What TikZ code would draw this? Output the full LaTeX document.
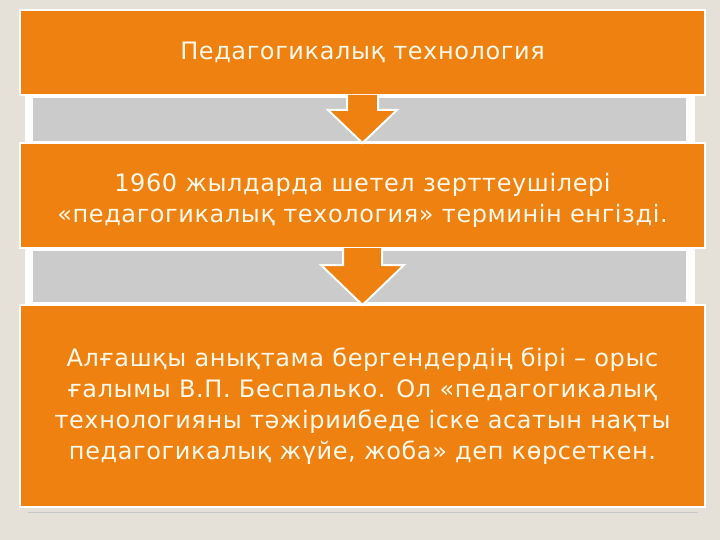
\documentclass[tikz,border=0pt]{standalone}
\usepackage{fontspec}
\setmainfont{DejaVu Sans}[LetterSpace=2.5]
\usetikzlibrary{calc}

\definecolor{bgbeige}{HTML}{E5E1D9}
\definecolor{boxorange}{HTML}{EE8110}
\definecolor{panelgrey}{HTML}{CBCBCB}
\definecolor{textcream}{HTML}{FFF9EC}

\begin{document}
\begin{tikzpicture}[x=1pt,y=-1pt,
	stepbox/.style={draw=white,line width=1.5pt,fill=boxorange,text=textcream,
		minimum width=685pt,inner sep=0pt,outer sep=0pt,anchor=north west,
		align=center,font=\fontsize{24}{31}\selectfont},
	flowarrow/.style={draw=white,line width=2pt,fill=boxorange,line join=miter}]
	
	% Background and frame
	\fill[bgbeige] (0,0) rectangle (720,540);
	\useasboundingbox (0,0) rectangle (720,540);
	
	% Grey panels behind the arrows
	\fill[white] (25,96) rectangle (695,143);
	\fill[panelgrey] (33,98) rectangle (686,141);
	\fill[white] (25,249) rectangle (695,304);
	\fill[panelgrey] (33,251) rectangle (686,302);
	
	% Shadow under the last box
	\draw[black!22,line width=1pt] (28,512) -- (698,512);
	
	% The three boxes
	\node[stepbox,minimum height=85pt] (title) at (20,10)
		{Педагогикалық технология};
	\node[stepbox,minimum height=105pt] (origin) at (20,143)
		{\rule{0pt}{28pt}1960 жылдарда шетел зерттеушілері\\
		 «педагогикалық техология» терминін енгізді.};
	\node[stepbox,minimum height=202pt] (definition) at (20,305)
		{Алғашқы анықтама бергендердің бірі – орыс\\
		 ғалымы В.П. Беспалько. Ол «педагогикалық\\
		 технологияны тәжіриибеде іске асатын нақты\\
		 педагогикалық жүйе, жоба» деп көрсеткен.};
	
	% Arrow from title to origin
	\draw[flowarrow] ($(title.south)+(-15.5,0)$) -- ++(0,15) -- ++(-19,0)
		-- (origin.north) -- ++(34.5,-33) -- ++(-19,0) -- ++(0,-15);
	
	% Arrow from origin to definition
	\draw[flowarrow] ($(origin.south)+(-19.5,0)$) -- ++(0,17) -- ++(-22,0)
		-- (definition.north) -- ++(41.5,-40) -- ++(-22,0) -- ++(0,-17);
	
\end{tikzpicture}
\end{document}
